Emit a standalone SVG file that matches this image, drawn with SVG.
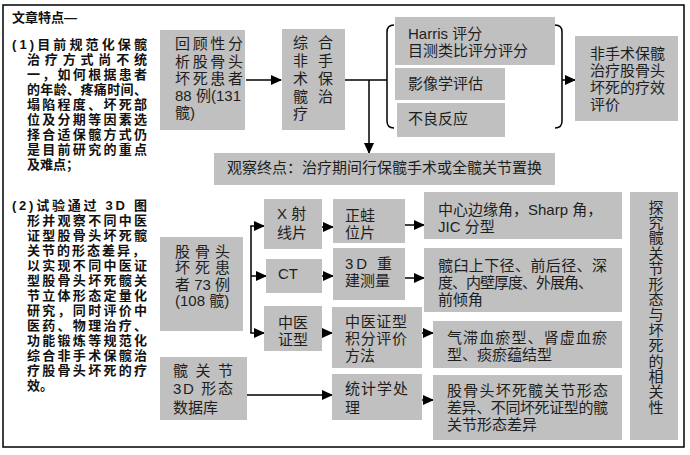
<svg xmlns="http://www.w3.org/2000/svg" width="690" height="455" viewBox="0 0 690 455">
<style>
.lt{font-family:"Liberation Sans","Noto Sans CJK SC",sans-serif;font-weight:bold;font-size:13px;fill:#111}
.bx{fill:#c0c0c0}
.t{font-family:"Liberation Sans","Noto Sans CJK SC",sans-serif;font-size:15px;fill:#1e1e1e}
.ln{stroke:#000;stroke-width:1.5;fill:none}
</style>
<defs>
<marker id="ah" markerUnits="userSpaceOnUse" markerWidth="11" markerHeight="10" refX="10" refY="5" orient="auto">
<path d="M0,0 L11,5 L0,10 Z" fill="#000"/>
</marker>
</defs>
<rect x="3" y="5" width="681" height="442" fill="#fff" stroke="#000" stroke-width="1.5"/>

<g id="features">
<text class="lt" x="12" y="22" font-size="13.5">文章特点—</text>
<text class="lt"><tspan x="12" y="49" textLength="135" lengthAdjust="spacing">(1)目前规范化保髋</tspan><tspan x="27" y="64" textLength="120" lengthAdjust="spacing">治疗方式尚不统</tspan><tspan x="27" y="79" textLength="120" lengthAdjust="spacing">一，如何根据患者</tspan><tspan x="27" y="94" textLength="120" lengthAdjust="spacing">的年龄、疼痛时间、</tspan><tspan x="27" y="109" textLength="120" lengthAdjust="spacing">塌陷程度、坏死部</tspan><tspan x="27" y="124" textLength="120" lengthAdjust="spacing">位及分期等因素选</tspan><tspan x="27" y="139" textLength="120" lengthAdjust="spacing">择合适保髋方式仍</tspan><tspan x="27" y="154" textLength="120" lengthAdjust="spacing">是目前研究的重点</tspan><tspan x="27" y="169">及难点；</tspan></text>
<text class="lt"><tspan x="12" y="210" textLength="135" lengthAdjust="spacing">(2)试验通过 3D 图</tspan><tspan x="27" y="225" textLength="120" lengthAdjust="spacing">形并观察不同中医</tspan><tspan x="27" y="240" textLength="120" lengthAdjust="spacing">证型股骨头坏死髋</tspan><tspan x="27" y="255" textLength="118" lengthAdjust="spacing">关节的形态差异，</tspan><tspan x="27" y="270" textLength="120" lengthAdjust="spacing">以实现不同中医证</tspan><tspan x="27" y="285" textLength="120" lengthAdjust="spacing">型股骨头坏死髋关</tspan><tspan x="27" y="300" textLength="120" lengthAdjust="spacing">节立体形态定量化</tspan><tspan x="27" y="315" textLength="120" lengthAdjust="spacing">研究，同时评价中</tspan><tspan x="27" y="330" textLength="120" lengthAdjust="spacing">医药、物理治疗、</tspan><tspan x="27" y="345" textLength="120" lengthAdjust="spacing">功能锻炼等规范化</tspan><tspan x="27" y="360" textLength="120" lengthAdjust="spacing">综合非手术保髋治</tspan><tspan x="27" y="375" textLength="120" lengthAdjust="spacing">疗股骨头坏死的疗</tspan><tspan x="27" y="390">效。</tspan></text>
</g>

<g id="connectors">
<line class="ln" x1="246" y1="80" x2="281" y2="80" stroke-width="2" marker-end="url(#ah)"/>
<line class="ln" x1="345" y1="80" x2="387" y2="80"/>
<line class="ln" x1="369" y1="80" x2="369" y2="153" marker-end="url(#ah)"/>
<path class="ln" d="M394,25 Q387,25 387,32 L387,121 Q387,128 394,128"/>
<path class="ln" d="M555,25 Q562,25 562,32 L562,121 Q562,128 555,128"/>
<line class="ln" x1="562" y1="80" x2="575" y2="80" marker-end="url(#ah)"/>
<line class="ln" x1="251" y1="226" x2="251" y2="333"/>
<line class="ln" x1="250.25" y1="226" x2="264" y2="226" marker-end="url(#ah)"/>
<line class="ln" x1="251" y1="276" x2="266" y2="276" marker-end="url(#ah)"/>
<line class="ln" x1="250.25" y1="333" x2="264" y2="333" marker-end="url(#ah)"/>
<line class="ln" x1="322" y1="227" x2="333" y2="227" marker-end="url(#ah)"/>
<line class="ln" x1="322" y1="276" x2="333" y2="276" marker-end="url(#ah)"/>
<line class="ln" x1="322" y1="333" x2="332" y2="333" marker-end="url(#ah)"/>
<line class="ln" x1="247" y1="395" x2="332" y2="395" stroke-width="2" marker-end="url(#ah)"/>
<line class="ln" x1="405" y1="225" x2="424" y2="225" marker-end="url(#ah)"/>
<line class="ln" x1="405" y1="278" x2="424" y2="278" marker-end="url(#ah)"/>
<line class="ln" x1="422" y1="333" x2="433" y2="333" marker-end="url(#ah)"/>
<line class="ln" x1="422" y1="400" x2="433" y2="400" marker-end="url(#ah)"/>
</g>

<g id="retro">
<rect class="bx" x="160" y="30" width="85" height="100"/>
<text class="t"><tspan x="175" y="49" textLength="68" lengthAdjust="spacing">回顾性分</tspan><tspan x="175" y="67" textLength="68" lengthAdjust="spacing">析股骨头</tspan><tspan x="175" y="84" textLength="68" lengthAdjust="spacing">坏死患者</tspan><tspan x="175" y="101" textLength="66" lengthAdjust="spacing">88 例(131</tspan><tspan x="175" y="118">髋)</tspan></text>
</g>

<g id="treat">
<rect class="bx" x="282" y="29" width="63" height="101"/>
<text class="t"><tspan x="293" y="48" textLength="40" lengthAdjust="spacing">综合</tspan><tspan x="293" y="66" textLength="40" lengthAdjust="spacing">非手</tspan><tspan x="293" y="84" textLength="40" lengthAdjust="spacing">术保</tspan><tspan x="293" y="102" textLength="40" lengthAdjust="spacing">髋治</tspan><tspan x="293" y="119">疗</tspan></text>
</g>

<g id="harris">
<rect class="bx" x="395" y="17" width="160" height="48"/>
<text class="t"><tspan x="408" y="39">Harris 评分</tspan><tspan x="408" y="56">目测类比评分评分</tspan></text>
</g>
<g id="imaging">
<rect class="bx" x="395" y="68" width="110" height="32"/>
<text class="t" x="408" y="89">影像学评估</text>
</g>
<g id="adverse">
<rect class="bx" x="397" y="103" width="108" height="34"/>
<text class="t" x="408" y="124">不良反应</text>
</g>

<g id="efficacy">
<rect class="bx" x="575" y="36" width="103" height="85"/>
<text class="t"><tspan x="590" y="59">非手术保髋</tspan><tspan x="590" y="76">治疗股骨头</tspan><tspan x="590" y="93">坏死的疗效</tspan><tspan x="590" y="110">评价</tspan></text>
</g>

<g id="endpoint">
<rect class="bx" x="214" y="153" width="341" height="32"/>
<text class="t" x="227" y="173">观察终点：治疗期间行保髋手术或全髋关节置换</text>
</g>

<g id="patients73">
<rect class="bx" x="160" y="237" width="83" height="94"/>
<text class="t" font-size="14.5"><tspan x="175" y="257" textLength="55" lengthAdjust="spacing">股骨头</tspan><tspan x="175" y="273.3" textLength="55" lengthAdjust="spacing">坏死患</tspan><tspan x="175" y="289.6" textLength="55" lengthAdjust="spacing">者 73 例</tspan><tspan x="175" y="306">(108 髋)</tspan></text>
</g>

<g id="xray">
<rect class="bx" x="264" y="199" width="58" height="50"/>
<text class="t"><tspan x="277" y="219">X 射</tspan><tspan x="277" y="238">线片</tspan></text>
</g>
<g id="ct">
<rect class="bx" x="266" y="259" width="56" height="34"/>
<text class="t" x="278" y="279" font-size="17">CT</text>
</g>
<g id="tcm">
<rect class="bx" x="264" y="306" width="58" height="45"/>
<text class="t"><tspan x="278" y="328">中医</tspan><tspan x="278" y="345">证型</tspan></text>
</g>

<g id="frog">
<rect class="bx" x="333" y="199" width="72" height="44"/>
<text class="t"><tspan x="345" y="221">正蛙</tspan><tspan x="345" y="238">位片</tspan></text>
</g>
<g id="recon">
<rect class="bx" x="333" y="248" width="72" height="52"/>
<text class="t"><tspan x="345" y="269" textLength="47" lengthAdjust="spacing">3D 重</tspan><tspan x="345" y="286">建测量</tspan></text>
</g>
<g id="score">
<rect class="bx" x="332" y="307" width="90" height="61"/>
<text class="t"><tspan x="345" y="327" textLength="62" lengthAdjust="spacing">中医证型</tspan><tspan x="345" y="344" textLength="62" lengthAdjust="spacing">积分评价</tspan><tspan x="345" y="361">方法</tspan></text>
</g>
<g id="stats">
<rect class="bx" x="332" y="374" width="90" height="46"/>
<text class="t"><tspan x="345" y="394" textLength="63" lengthAdjust="spacing">统计学处</tspan><tspan x="345" y="413">理</tspan></text>
</g>

<g id="database">
<rect class="bx" x="160" y="357" width="87" height="63"/>
<text class="t"><tspan x="173" y="376" textLength="60" lengthAdjust="spacing">髋关节</tspan><tspan x="173" y="394" textLength="60" lengthAdjust="spacing">3D 形态</tspan><tspan x="173" y="413">数据库</tspan></text>
</g>

<g id="angles">
<rect class="bx" x="424" y="192" width="198" height="47"/>
<text class="t"><tspan x="438" y="215">中心边缘角，Sharp 角，</tspan><tspan x="438" y="232">JIC 分型</tspan></text>
</g>
<g id="acetab">
<rect class="bx" x="424" y="248" width="198" height="64"/>
<text class="t"><tspan x="438" y="271" textLength="169" lengthAdjust="spacing">髋臼上下径、前后径、深</tspan><tspan x="438" y="288" textLength="155" lengthAdjust="spacing">度、内壁厚度、外展角、</tspan><tspan x="438" y="305">前倾角</tspan></text>
</g>
<g id="types">
<rect class="bx" x="433" y="321" width="189" height="47"/>
<text class="t"><tspan x="447" y="343" textLength="160" lengthAdjust="spacing">气滞血瘀型、肾虚血瘀</tspan><tspan x="447" y="360">型、痰瘀蕴结型</tspan></text>
</g>
<g id="diffs">
<rect class="bx" x="433" y="375" width="189" height="65"/>
<text class="t"><tspan x="447" y="396" textLength="161" lengthAdjust="spacing">股骨头坏死髋关节形态</tspan><tspan x="447" y="413" textLength="161" lengthAdjust="spacing">差异、不同坏死证型的髋</tspan><tspan x="447" y="430">关节形态差异</tspan></text>
</g>

<g id="correlation">
<rect class="bx" x="630" y="192" width="48" height="248"/>
<text class="t" x="655" y="199.5" writing-mode="vertical-rl" style="text-orientation:upright" letter-spacing="0.4">探究髋关节形态与坏死的相关性</text>
</g>
</svg>
